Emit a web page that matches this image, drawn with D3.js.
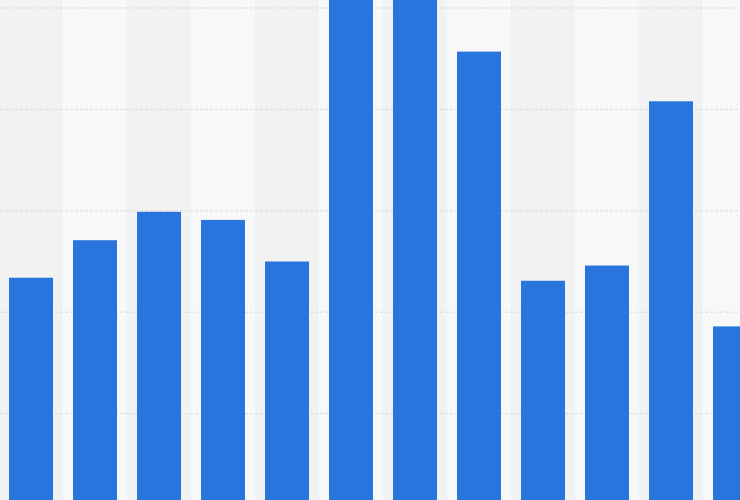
<!DOCTYPE html>
<html>
<head>
<meta charset="utf-8">
<script src="https://cdn.jsdelivr.net/npm/d3@7"></script>
<style>
  html, body { margin: 0; padding: 0; background: #fff; overflow: hidden; }
  svg { display: block; }
</style>
</head>
<body>
<svg id="chart"></svg>
<script>
const categories = ['1', '2', '3', '4', '5', '6', '7', '8', '9', '10', '11', '12'];
const values = [234, 271, 299, 291, 250, 545, 545, 457, 231, 246, 408, 186];
const gridTicks = [100, 200, 300, 400, 500];

const width = 740;
const height = 500;

const svg = d3.select('#chart')
  .attr('width', width)
  .attr('height', height);

// band for the background stripes, one per category
const xBand = d3.scaleBand()
  .domain(categories)
  .range([-1, -1 + 64 * categories.length])
  .padding(0);

const x = d3.scaleBand()
  .domain(categories)
  .range([-1, -1 + 64 * categories.length])
  .paddingInner(0.3125)
  .paddingOuter(0.15625);

const y = d3.scaleLinear()
  .domain([0, 500])
  .range([515, 8]);

svg.append('g')
  .selectAll('rect')
  .data(categories)
  .enter()
  .append('rect')
  .attr('x', d => xBand(d))
  .attr('y', 0)
  .attr('width', xBand.bandwidth())
  .attr('height', height)
  .attr('fill', (d, i) => i % 2 === 0 ? '#f2f2f2' : '#f8f8f8');

svg.append('g')
  .selectAll('line')
  .data(gridTicks)
  .enter()
  .append('line')
  .attr('x1', 0)
  .attr('x2', width)
  .attr('y1', d => y(d))
  .attr('y2', d => y(d))
  .attr('stroke', '#d9d9d9')
  .attr('stroke-width', 1)
  .attr('stroke-dasharray', '3,2');

svg.append('g')
  .selectAll('rect')
  .data(values)
  .enter()
  .append('rect')
  .attr('x', (d, i) => x(categories[i]))
  .attr('y', d => y(d))
  .attr('width', x.bandwidth())
  .attr('height', d => y(0) - y(d))
  .attr('fill', '#2876dd');
</script>
</body>
</html>
